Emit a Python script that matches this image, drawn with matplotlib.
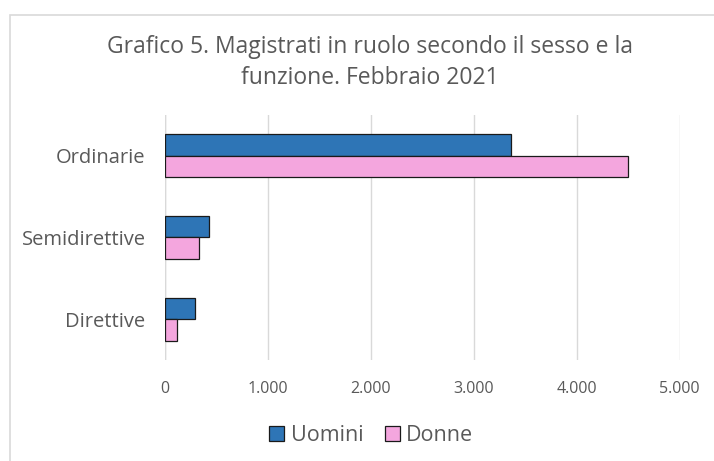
import matplotlib.pyplot as plt
import numpy as np
from matplotlib.patches import Rectangle

categories = ['Ordinarie', 'Semidirettive', 'Direttive']
uomini = [3364, 426, 290]
donne = [4502, 327, 119]
ticks = [0, 1000, 2000, 3000, 4000, 5000]
tick_labels = ['0', '1.000', '2.000', '3.000', '4.000', '5.000']

plt.rcParams['font.family'] = ['Open Sans', 'DejaVu Sans']

fig = plt.figure(figsize=(7.14, 4.61), dpi=100)
# light frame around the chart (right side runs off the image)
fig.patches.append(Rectangle((0.0135, -0.01), 1.0, 0.978, transform=fig.transFigure,
                             fill=False, edgecolor='#d9d9d9', linewidth=1.2))

ax = fig.add_axes([0.231, 0.219, 0.721, 0.532])
y = np.arange(len(categories))
h = 0.265
ax.barh(y - h / 2, uomini, height=h, color='#2E75B6', edgecolor='#1a1a1a', linewidth=0.9, label='Uomini', zorder=3)
ax.barh(y + h / 2, donne, height=h, color='#F4A6DE', edgecolor='#1a1a1a', linewidth=0.9, label='Donne', zorder=3)

ax.set_ylim(2.5, -0.5)
ax.set_xlim(0, 5000)
ax.set_xticks(ticks)
ax.set_xticklabels(tick_labels)
ax.set_yticks(y)
ax.set_yticklabels(categories)
ax.xaxis.grid(True, color='#d9d9d9', linewidth=1, zorder=0)
for s in ax.spines.values():
    s.set_visible(False)
ax.axvline(0, color='#d9d9d9', linewidth=1, zorder=1)
ax.tick_params(axis='x', length=0, labelsize=11.5, colors='#595959', pad=15)
ax.tick_params(axis='y', length=0, labelsize=14.5, colors='#595959', pad=14)

fig.text(0.518, 0.864, 'Grafico 5. Magistrati in ruolo secondo il sesso e la\nfunzione. Febbraio 2021',
         ha='center', va='center', fontsize=16.5, color='#595959', linespacing=1.4)

leg = fig.legend(loc='center', bbox_to_anchor=(0.52, 0.055), ncol=2, frameon=False,
                 fontsize=15.5, handlelength=0.7, handleheight=0.7, handletextpad=0.3,
                 columnspacing=1.0)
for t in leg.get_texts():
    t.set_color('#595959')

fig.savefig('out.png', dpi=100)
